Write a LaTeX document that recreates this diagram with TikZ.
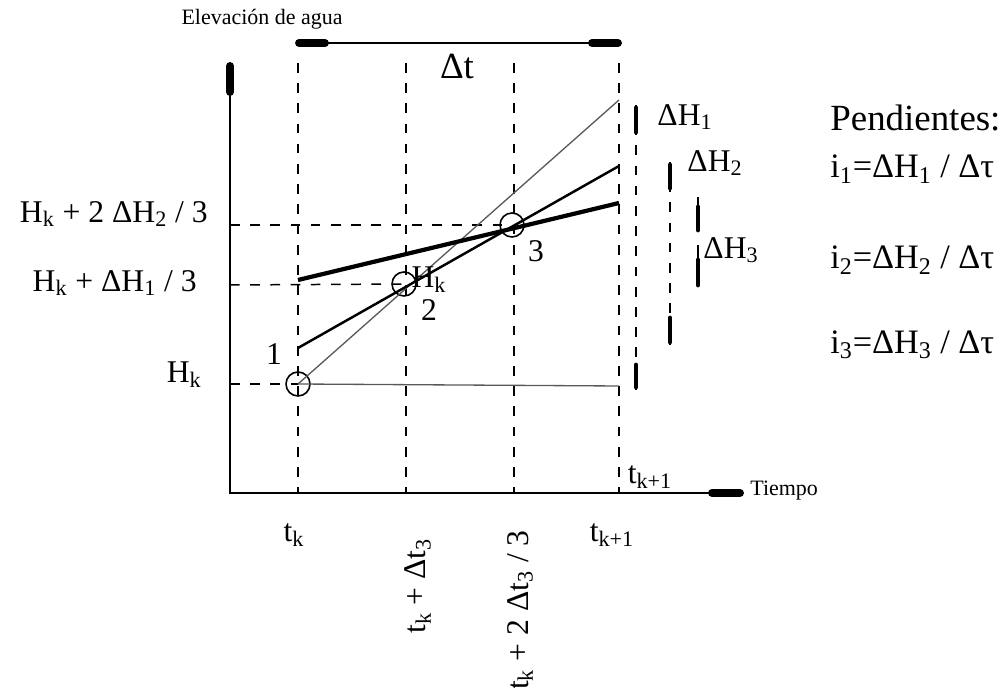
\documentclass[tikz,border=0pt]{standalone}
\usepackage{fontspec}
\setmainfont{Liberation Serif}
\usetikzlibrary{calc}

\begin{document}
\begin{tikzpicture}[
    x=0.02cm, y=-0.02cm,
    axis/.style={line width=1.7pt},
    axisend/.style={line width=4.5pt, line cap=round},
    barend/.style={line width=2.8pt, line cap=round},
    guide/.style={dash pattern=on 5.5pt off 6pt, line width=0.85pt},
    thinline/.style={line width=0.75pt, black!65},
    midline/.style={line width=1.4pt},
    boldline/.style={line width=2.4pt},
    pnt/.style={circle, draw, line width=0.9pt, minimum size=0.48cm, inner sep=0pt},
    lab/.style={font=\fontsize{18}{20}\selectfont, inner sep=0pt},
    smalllab/.style={font=\fontsize{12.5}{14}\selectfont, inner sep=0pt},
    biglab/.style={font=\fontsize{21}{23}\selectfont, inner sep=0pt},
    slopelab/.style={font=\fontsize{19.5}{22}\selectfont, inner sep=0pt}
  ]
  \useasboundingbox (0,0) rectangle (1000,688);

  \coordinate (O) at (230,493);
  \coordinate (ytop) at (230,63);
  \coordinate (xend) at (742,493);
  \draw[axis] (ytop) -- (O) -- (xend);
  \draw[axisend] (230,66) -- (230,92);
  \draw[axisend] (712,493) -- (740,493);

  \foreach \x/\n in {298/tk, 406/ta, 514/tb, 619/tn} {
    \coordinate (top\n) at (\x,63);
    \coordinate (bot\n) at (\x,493);
    \draw[guide] (top\n) -- (bot\n);
  }

  \coordinate (dtl) at (298,43);
  \coordinate (dtr) at (619,43);
  \draw[line width=1.1pt] (dtl) -- (dtr);
  \draw[axisend] (299,43) -- (325,43);
  \draw[axisend] (592,43) -- (618,43);
  \node[biglab] (dt) at (457,67) {Δt};

  \node[pnt] (p1) at (298,384) {};
  \node[pnt] (p2) at (404,284) {};
  \node[pnt] (p3) at (512,225) {};

  \draw[guide] (230,225) -- (p3.center);
  \draw[guide] (230,285) -- (p2.center);
  \draw[guide] (230,384) -- (p1.center);

  \coordinate (e1) at (619,100);
  \coordinate (e0) at (619,386);
  \coordinate (s2) at (298,348);
  \coordinate (e2) at (619,166);
  \coordinate (s3) at (298,280);
  \coordinate (e3) at (619,203);
  \draw[thinline] (p1.center) -- (e1);
  \draw[thinline] (p1.center) -- (e0);
  \draw[midline] (s2) -- (e2);
  \draw[boldline] (s3) -- (e3);

  \draw[guide, line width=0.7pt] (636,105) -- (636,390);
  \draw[barend] (636,108) -- (636,132);
  \draw[barend] (636,365) -- (636,387);
  \draw[guide, line width=0.7pt] (670,162) -- (670,345);
  \draw[barend] (670,165) -- (670,188);
  \draw[barend] (670,318) -- (670,342);
  \draw[line width=0.7pt] (698,197) -- (698,232);
  \draw[line width=0.7pt] (698,245) -- (698,287);
  \draw[barend] (698,207) -- (698,230);
  \draw[barend] (698,260) -- (698,285);

  \node[lab] (l1) at (274,354) {1};
  \node[lab] (l2) at (429,310) {2};
  \node[lab] (l3) at (536,251) {3};
  \node[lab] (hk2) at (429,280) {H\textsubscript{k}};

  \node[lab, anchor=east] (yl3) at (208,214) {H\textsubscript{k} + 2 ΔH\textsubscript{2} / 3};
  \node[lab, anchor=east] (yl2) at (197,283) {H\textsubscript{k} + ΔH\textsubscript{1} / 3};
  \node[lab, anchor=east] (yl1) at (202,375) {H\textsubscript{k}};

  \node[smalllab] (ytit) at (262,19) {Elevación de agua};
  \node[smalllab, anchor=west] (xtit) at (750,491) {Tiempo};

  \node[lab] (tn1) at (650,477) {t\textsubscript{k+1}};
  \node[lab] (xtk) at (294,535) {t\textsubscript{k}};
  \node[lab] (xtn) at (612,535) {t\textsubscript{k+1}};
  \node[lab, rotate=90] (xta) at (418,586) {t\textsubscript{k} + Δt\textsubscript{3}};
  \node[lab, rotate=90] (xtb) at (520,610) {t\textsubscript{k} + 2 Δt\textsubscript{3} / 3};

  \node[lab] (dh1) at (685,117) {ΔH\textsubscript{1}};
  \node[lab] (dh2) at (715,163) {ΔH\textsubscript{2}};
  \node[lab] (dh3) at (731,250) {ΔH\textsubscript{3}};

  \node[biglab, anchor=west] (pend) at (830,118) {Pendientes:};
  \node[slopelab, anchor=west] (i1) at (830,169) {i\textsubscript{1}=ΔH\textsubscript{1} / Δτ};
  \node[slopelab, anchor=west] (i2) at (830,260) {i\textsubscript{2}=ΔH\textsubscript{2} / Δτ};
  \node[slopelab, anchor=west] (i3) at (830,345) {i\textsubscript{3}=ΔH\textsubscript{3} / Δτ};
\end{tikzpicture}
\end{document}
